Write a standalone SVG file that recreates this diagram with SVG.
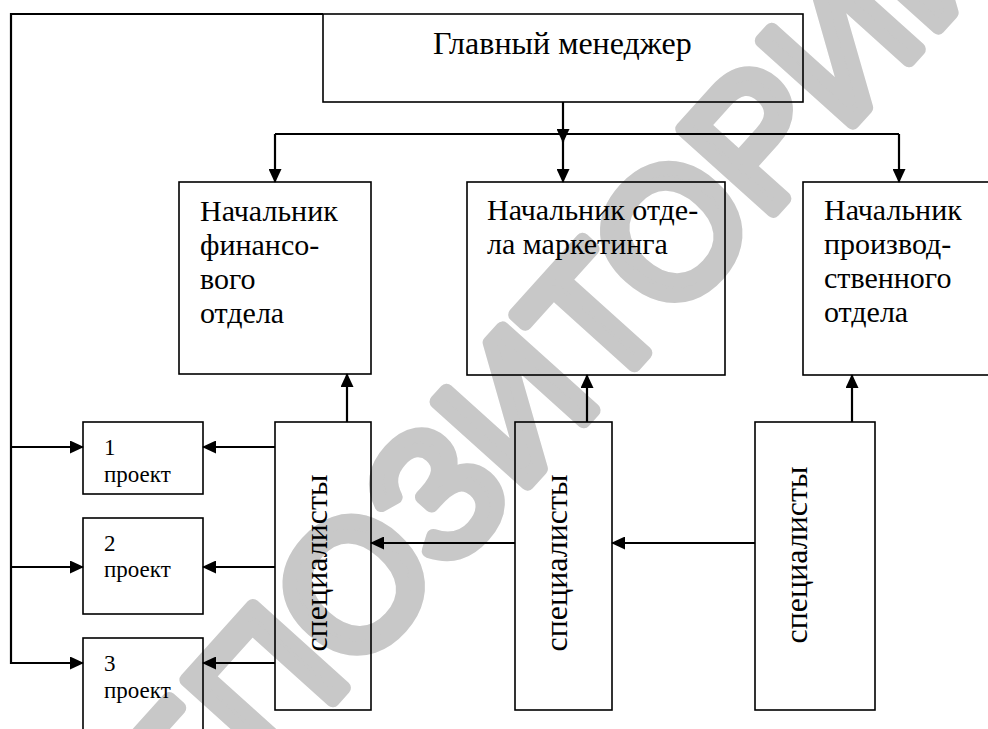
<svg xmlns="http://www.w3.org/2000/svg" width="988" height="729" viewBox="0 0 988 729">
<style>
.box{fill:none;stroke:#000;stroke-width:1.6}
.t{font-family:'Liberation Serif','Times New Roman',serif;fill:#000}
.c{fill:none;stroke:#000;stroke-width:2.2}
.a{marker-end:url(#ah)}
.wm{font-family:'Liberation Sans',Arial,sans-serif;fill:#c8c8c8;stroke:#c8c8c8;stroke-width:14;stroke-linejoin:round}
</style>
<defs>
<marker id="ah" markerWidth="14" markerHeight="13" refX="13" refY="6.5" orient="auto" markerUnits="userSpaceOnUse"><path d="M0,0 L14,6.5 L0,13 z" fill="#000"/></marker>
</defs>
<rect width="988" height="729" fill="#fff"/>
<text class="wm" font-size="178" transform="translate(268,772) rotate(-48)" x="-238" y="0">РЕПОЗИТОРИЙ</text>

<g id="connectors">
<path class="c" d="M323,14 H11 V663 H83"/>
<path class="c a" d="M11,663 H83"/>
<path class="c a" d="M11,447 H83"/>
<path class="c a" d="M11,567 H83"/>
<path class="c a" d="M563,102 V142"/>
<path class="c" d="M275,134 H899"/>
<path class="c a" d="M275,134 V182"/>
<path class="c a" d="M563,134 V182"/>
<path class="c a" d="M899,134 V182"/>
<path class="c a" d="M347,422 V374"/>
<path class="c a" d="M587,422 V375"/>
<path class="c a" d="M852,422 V375"/>
<path class="c a" d="M755,543 H612"/>
<path class="c a" d="M515,543 H371"/>
<path class="c a" d="M275,447 H203"/>
<path class="c a" d="M275,567 H203"/>
<path class="c a" d="M275,663 H203"/>
</g>

<g id="manager">
<rect class="box" x="323" y="14" width="480" height="88"/>
<text class="t" x="433" y="54" font-size="32">Главный менеджер</text>
</g>
<g id="fin">
<rect class="box" x="179" y="182" width="192" height="192"/>
<text class="t" font-size="30"><tspan x="200" y="221">Начальник</tspan><tspan x="200" y="255">финансо-</tspan><tspan x="200" y="289">вого</tspan><tspan x="200" y="323">отдела</tspan></text>
</g>
<g id="mkt">
<rect class="box" x="467" y="182" width="258" height="193"/>
<text class="t" font-size="30"><tspan x="487" y="220">Начальник отде-</tspan><tspan x="487" y="254">ла маркетинга</tspan></text>
</g>
<g id="prod">
<rect class="box" x="803" y="182" width="200" height="193"/>
<text class="t" font-size="30"><tspan x="824" y="220">Начальник</tspan><tspan x="824" y="254">производ-</tspan><tspan x="824" y="288">ственного</tspan><tspan x="824" y="322">отдела</tspan></text>
</g>
<g id="spec1">
<rect class="box" x="275" y="422" width="96" height="288"/>
<text class="t" font-size="32" text-anchor="middle" transform="translate(327,563) rotate(-90)">специалисты</text>
</g>
<g id="spec2">
<rect class="box" x="515" y="422" width="97" height="288"/>
<text class="t" font-size="32" text-anchor="middle" transform="translate(567,563) rotate(-90)">специалисты</text>
</g>
<g id="spec3">
<rect class="box" x="755" y="422" width="120" height="288"/>
<text class="t" font-size="32" text-anchor="middle" transform="translate(807,555) rotate(-90)">специалисты</text>
</g>
<g id="proj1">
<rect class="box" x="83" y="422" width="120" height="72"/>
<text class="t" font-size="23"><tspan x="104" y="455">1</tspan><tspan x="104" y="482">проект</tspan></text>
</g>
<g id="proj2">
<rect class="box" x="83" y="518" width="120" height="96"/>
<text class="t" font-size="23"><tspan x="104" y="551">2</tspan><tspan x="104" y="577">проект</tspan></text>
</g>
<g id="proj3">
<rect class="box" x="83" y="638" width="120" height="110"/>
<text class="t" font-size="23"><tspan x="104" y="671">3</tspan><tspan x="104" y="698">проект</tspan></text>
</g>
</svg>
